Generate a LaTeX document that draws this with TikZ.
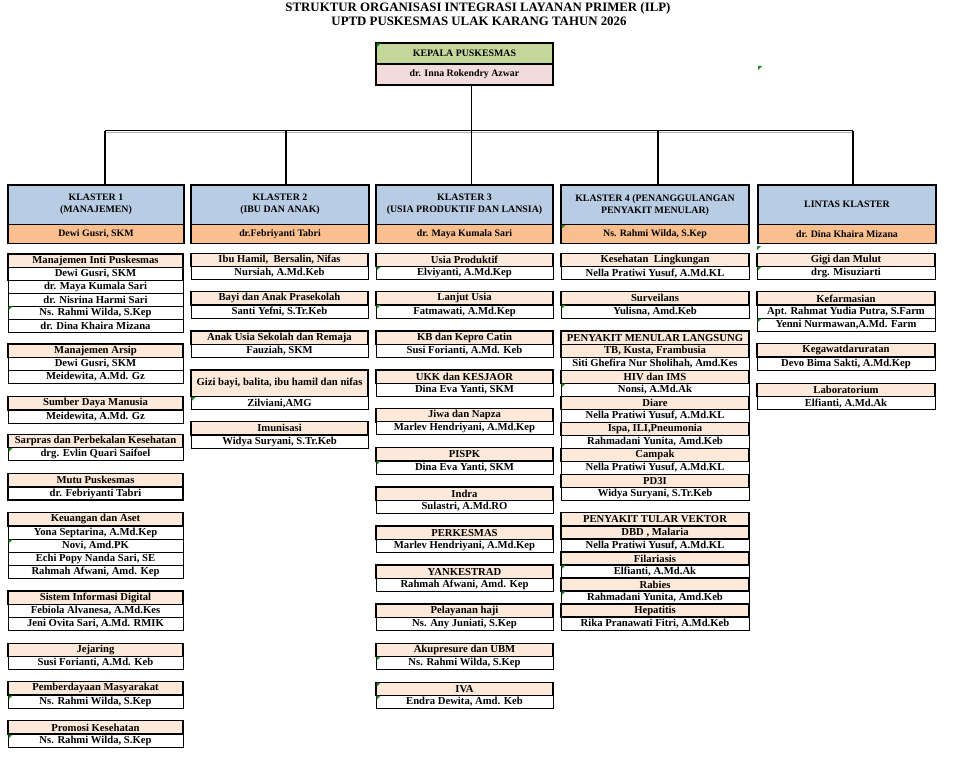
\documentclass[tikz,border=0pt]{standalone}
\usepackage{fontspec}
\setmainfont{Liberation Serif}
\usetikzlibrary{calc}
\definecolor{kgreen}{HTML}{C4D79B}
\definecolor{kpink}{HTML}{F2DCDB}
\definecolor{kblue}{HTML}{B8CCE4}
\definecolor{korange}{HTML}{FABF8F}
\definecolor{kpeach}{HTML}{FDE9D9}
\definecolor{cmtgreen}{HTML}{1E8C1E}
\newcommand\grp[6]{%
  \node[hdr, minimum width=#4bp] (#1h) at (#2,#3) {#5};
  \foreach \r [count=\i] in {#6} {\node[rowb, minimum width=#4bp] (#1r\i) at (#2,#3+0.3+13*\i) {\r};}
}
\newcommand\pairb[6]{%
  \node[subh, minimum width=#4bp] (#1a) at (#2,#3) {#5};
  \node[rowb, minimum width=#4bp] (#1b) at (#2,#3+13) {#6};
}
\newcommand\cmt[2]{\fill[cmtgreen] (#1,#2) -- ++(4,0) -- ++(-4,4) -- cycle;}
\begin{document}
\begin{tikzpicture}[x=1bp,y=-1bp,
  box/.style={draw=black, anchor=north west, inner sep=0pt, outer sep=0pt, align=center,
    font=\fontsize{10.7}{11}\selectfont\bfseries},
  hdr/.style={box, fill=kpeach, line width=1.4bp, minimum height=13.3bp},
  subh/.style={box, fill=kpeach, line width=1.3bp, minimum height=13bp},
  rowb/.style={box, fill=white, line width=0.9bp, minimum height=13bp},
  kl/.style={draw=black, anchor=north west, inner sep=0pt, outer sep=0pt, align=center,
    line width=1.5bp, font=\fontsize{9.9}{12}\selectfont\bfseries},
  conn/.style={draw=black, line width=1.3bp},
  ttl/.style={font=\fontsize{12.9}{14}\selectfont\bfseries, inner sep=0pt}
]
\useasboundingbox (0,0) rectangle (969,758);
% title
\node[ttl] (t1) at (478,8.5) {STRUKTUR ORGANISASI INTEGRASI LAYANAN PRIMER (ILP)};
\node[ttl] (t2) at (479,21.5) {UPTD PUSKESMAS ULAK KARANG TAHUN 2026};
% kepala
\node[kl, fill=kgreen, minimum width=177bp, minimum height=21bp] (kpA) at (376,43) {KEPALA PUSKESMAS};
\node[kl, fill=kpink, minimum width=177bp, minimum height=21bp] (kpB) at (376,64) {dr. Inna Rokendry Azwar};
% klaster
\node[kl, fill=kblue, minimum width=176bp, minimum height=39.5bp] (k1) at (8,185) {KLASTER 1\\(MANAJEMEN)};
\node[kl, fill=korange, minimum width=176bp, minimum height=19bp] (k1b) at (8,224.5) {Dewi Gusri, SKM};
\node[kl, fill=kblue, minimum width=178bp, minimum height=39.5bp] (k2) at (191,185) {KLASTER 2\\(IBU DAN ANAK)};
\node[kl, fill=korange, minimum width=178bp, minimum height=19bp] (k2b) at (191,224.5) {dr.Febriyanti Tabri};
\node[kl, fill=kblue, minimum width=177bp, minimum height=39.5bp] (k3) at (376,185) {KLASTER 3\\(USIA PRODUKTIF DAN LANSIA)};
\node[kl, fill=korange, minimum width=177bp, minimum height=19bp] (k3b) at (376,224.5) {dr. Maya Kumala Sari};
\node[kl, fill=kblue, minimum width=188bp, minimum height=39.5bp] (k4) at (561,185) {KLASTER 4 (PENANGGULANGAN\\PENYAKIT MENULAR)};
\node[kl, fill=korange, minimum width=188bp, minimum height=19bp] (k4b) at (561,224.5) {Ns. Rahmi Wilda, S.Kep};
\node[kl, fill=kblue, minimum width=178bp, minimum height=39.5bp] (k5) at (758,185) {LINTAS KLASTER};
\node[kl, fill=korange, minimum width=178bp, minimum height=19bp] (k5b) at (758,224.5) {dr. Dina Khaira Mizana};
% connectors
\coordinate (b1) at (105,130.5);
\coordinate (b2) at (286,130.5);
\coordinate (b3) at (471.5,130.5);
\coordinate (b4) at (658,130.5);
\coordinate (b5) at (853,130.5);
\draw[gray!60, line width=0.9bp] ($(b1)+(0,1.6)$) -- ($(b5)+(0,1.6)$);
\draw[black, line width=1.6bp] (b1) -- (b5);
\draw[conn] (kpB.south -| b3) -- (b3);
\draw[conn] (b1) -- (b1 |- k1.north);
\draw[conn] (b2) -- (b2 |- k2.north);
\draw[conn] (b3) -- (b3 |- k3.north);
\draw[conn] (b4) -- (b4 |- k4.north);
\draw[conn] (b5) -- (b5 |- k5.north);
% column 1
\grp{a}{8}{254}{175}{Manajemen Inti Puskesmas}{{Dewi Gusri, SKM},{dr. Maya Kumala Sari},{dr. Nisrina Harmi Sari},{Ns. Rahmi Wilda, S.Kep},{dr. Dina Khaira Mizana}}
\draw[line width=1.4bp] (ar1.north west) rectangle (ar1.south east);
\grp{b}{8}{344}{175}{Manajemen Arsip}{{Dewi Gusri, SKM},{Meidewita, A.Md. Gz}}
\grp{c}{8}{396.7}{175}{Sumber Daya Manusia}{{Meidewita, A.Md. Gz}}
\grp{d}{8}{434.3}{175}{Sarpras dan Perbekalan Kesehatan}{{drg. Evlin Quari Saifoel}}
\grp{e}{8}{473.7}{175}{Mutu Puskesmas}{{dr. Febriyanti Tabri}}
\draw[line width=1.4bp] (er1.north west) rectangle (er1.south east);
\grp{f}{8}{512.7}{175}{Keuangan dan Aset}{{Yona Septarina, A.Md.Kep},{Novi, Amd.PK},{Echi Popy Nanda Sari, SE},{Rahmah Afwani, Amd. Kep}}
\grp{g}{8}{591}{175}{Sistem Informasi Digital}{{Febiola Alvanesa, A.Md.Kes},{Jeni Ovita Sari, A.Md. RMIK}}
\grp{h}{8}{643.3}{175}{Jejaring}{{Susi Forianti, A.Md. Keb}}
\grp{i}{8}{681.7}{175}{Pemberdayaan Masyarakat}{{Ns. Rahmi Wilda, S.Kep}}
\grp{j}{8}{720.7}{175}{Promosi Kesehatan}{{Ns. Rahmi Wilda, S.Kep}}
% column 2
\grp{m}{191}{253.3}{177}{Ibu Hamil,\ \ Bersalin, Nifas}{{Nursiah, A.Md.Keb}}
\grp{n}{191}{291.7}{177}{Bayi dan Anak Prasekolah}{{Santi Yefni, S.Tr.Keb}}
\grp{o}{191}{331}{177}{Anak Usia Sekolah dan Remaja}{{Fauziah, SKM}}
\node[hdr, minimum width=177bp, minimum height=26.7bp] (ph) at (191,370) {Gizi bayi, balita, ibu hamil dan nifas};
\node[rowb, minimum width=177bp] (pr1) at (191,396.7) {Zilviani,AMG};
\grp{q}{191}{421.7}{177}{Imunisasi}{{Widya Suryani, S.Tr.Keb}}
% column 3
\grp{ca}{376}{253.3}{177}{Usia Produktif}{{Elviyanti, A.Md.Kep}}
\grp{cb}{376}{291.7}{177}{Lanjut Usia}{{Fatmawati, A.Md.Kep}}
\grp{cc}{376}{331}{177}{KB dan Kepro Catin}{{Susi Forianti, A.Md. Keb}}
\grp{cd}{376}{370}{177}{UKK dan KESJAOR}{{Dina Eva Yanti, SKM}}
\grp{ce}{376}{408.5}{177}{Jiwa dan Napza}{{Marlev Hendriyani, A.Md.Kep}}
\grp{cf}{376}{447.7}{177}{PISPK}{{Dina Eva Yanti, SKM}}
\grp{cg}{376}{487}{177}{Indra}{{Sulastri, A.Md.RO}}
\grp{ch}{376}{526}{177}{PERKESMAS}{{Marlev Hendriyani, A.Md.Kep}}
\grp{ci}{376}{565}{177}{YANKESTRAD}{{Rahmah Afwani, Amd. Kep}}
\grp{cj}{376}{604}{177}{Pelayanan haji}{{Ns. Any Juniati, S.Kep}}
\grp{ck}{376}{643.3}{177}{Akupresure dan UBM}{{Ns. Rahmi Wilda, S.Kep}}
\grp{cl}{376}{682.3}{177}{IVA}{{Endra Dewita, Amd. Keb}}
% column 4
\grp{da}{561}{253.3}{188}{Kesehatan\ \ Lingkungan}{{Nella Pratiwi Yusuf, A.Md.KL}}
\grp{db}{561}{291.7}{188}{Surveilans}{{Yulisna, Amd.Keb}}
\node[hdr, minimum width=188bp] (pmlh) at (561,331) {PENYAKIT MENULAR LANGSUNG};
\pairb{pa}{561}{344.3}{188}{TB, Kusta, Frambusia}{Siti Ghefira Nur Sholihah, Amd.Kes}
\pairb{pb}{561}{370.3}{188}{HIV dan IMS}{Nonsi, A.Md.Ak}
\pairb{pc}{561}{396.3}{188}{Diare}{Nella Pratiwi Yusuf, A.Md.KL}
\pairb{pd}{561}{422.3}{188}{Ispa, ILI,Pneumonia}{Rahmadani Yunita, Amd.Keb}
\pairb{pe}{561}{448.3}{188}{Campak}{Nella Pratiwi Yusuf, A.Md.KL}
\pairb{pf}{561}{474.3}{188}{PD3I}{Widya Suryani, S.Tr.Keb}
\node[hdr, minimum width=188bp] (ptvh) at (561,512.7) {PENYAKIT TULAR VEKTOR};
\pairb{va}{561}{526}{188}{DBD , Malaria}{Nella Pratiwi Yusuf, A.Md.KL}
\pairb{vb}{561}{552}{188}{Filariasis}{Elfianti, A.Md.Ak}
\pairb{vc}{561}{578}{188}{Rabies}{Rahmadani Yunita, Amd.Keb}
\pairb{vd}{561}{604}{188}{Hepatitis}{Rika Pranawati Fitri, A.Md.Keb}
% column 5
\grp{ea}{757}{253.3}{178}{Gigi dan Mulut}{{drg. Misuziarti}}
\grp{eb}{757}{291.7}{178}{Kefarmasian}{{Apt. Rahmat Yudia Putra, S.Farm},{Yenni Nurmawan,A.Md. Farm}}
\grp{ec}{757}{343.7}{178}{Kegawatdaruratan}{{Devo Bima Sakti, A.Md.Kep}}
\grp{ed}{757}{383.3}{178}{Laboratorium}{{Elfianti, A.Md.Ak}}
% comment markers
\cmt{376.5}{43.5}
\cmt{758}{66}
\cmt{561.5}{225}
\cmt{757}{246}
\cmt{8.5}{306.3}
\cmt{8.5}{448}
\cmt{8.5}{539.5}
\cmt{8.5}{695.5}
\cmt{8.5}{734.5}
\cmt{191.5}{397.2}
\cmt{376.5}{266.8}
\cmt{376.5}{305.2}
\cmt{376.5}{461.2}
\cmt{376.5}{656.8}
\cmt{376.5}{682.8}
\cmt{376.5}{695.8}
\cmt{561.5}{305.2}
\cmt{561.5}{383.6}
\cmt{561.5}{565.3}
\cmt{561.5}{591.3}
\cmt{757.5}{266.8}
\cmt{757.5}{318.6}
\end{tikzpicture}
\end{document}
